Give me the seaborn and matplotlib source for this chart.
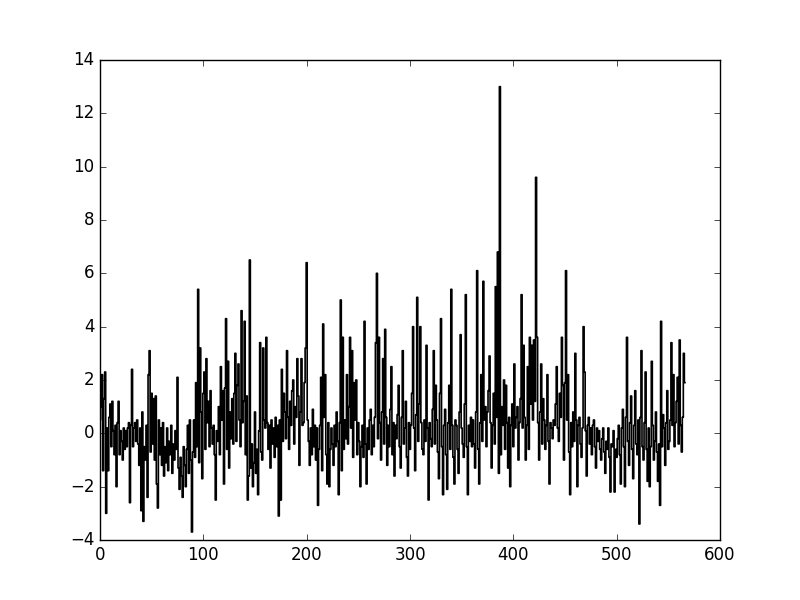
import numpy as np
import pandas as pd
import matplotlib
matplotlib.use("Agg")
import matplotlib.pyplot as plt
import seaborn as sns

# values, one per index (0..566), ten per row
values = [
    0.5, 1.0, 2.2, -1.4, 1.3, 2.3, -3.0, 0.2, -1.4, 0.6,
    1.1, -0.5, 1.2, 0.1, -0.8, 0.3, -2.0, 0.4, 1.2, -0.8,
    0.1, -0.3, -1.0, 0.2, -0.6, 0.1, -0.5, 0.2, 0.4, -2.6,
    0.3, 2.4, -0.5, 0.2, 0.4, -0.3, 0.5, -0.4, -1.2, 0.2,
    -2.9, 0.8, -3.3, -0.5, -1.0, 0.3, -2.4, 2.2, 3.1, -0.7,
    1.5, -0.4, 1.3, -1.0, 1.4, -1.9, -2.8, 0.5, -0.8, 0.2,
    -1.2, 0.4, -1.6, -0.5, -1.1, 0.2, -1.4, -0.3, -0.8, 0.3,
    -1.5, -0.4, -1.0, 0.1, -0.6, 2.1, -1.3, -2.1, -0.9, -1.6,
    -2.4, -0.5, -1.2, -2.0, -0.6, 0.3, -1.5, 0.5, -1.0, -3.7,
    -0.7, 0.5, -0.9, 1.9, -0.5, 5.4, -1.1, 3.2, 0.8, -1.7,
    1.5, 2.3, -0.6, 2.8, 0.4, 1.2, -0.5, 1.6, 0.2, -0.4,
    0.3, -0.8, -2.5, 0.1, -0.3, 1.0, -0.8, 2.5, 0.5, 1.6,
    -1.9, 1.7, 4.3, -0.6, 2.7, -1.3, 0.8, -0.2, 1.3, -0.4,
    1.5, 3.0, -0.3, 1.8, 2.6, 0.5, -0.5, 4.6, 0.4, 1.2,
    4.2, -0.8, 1.4, -2.5, -1.6, 6.5, -1.3, -0.4, -2.0, -1.1,
    0.8, -1.5, -0.6, -2.3, 0.1, 3.4, -0.7, -1.0, 3.2, 0.5,
    0.2, 3.6, 0.4, -0.6, 0.3, -1.3, 0.5, -0.4, 0.2, -0.9,
    0.6, -0.5, 0.3, -3.1, 0.5, -2.5, 2.4, -0.3, 1.5, 0.8,
    -0.2, 3.1, 0.6, -0.6, 1.2, 0.3, 1.6, 2.0, -0.4, 1.0,
    0.6, 2.8, 1.4, -1.2, 0.8, 2.8, 0.3, 0.4, 1.9, 3.2,
    6.4, 0.5, -0.3, -1.2, 0.2, -0.8, 0.9, -0.5, 0.3, -1.0,
    0.2, -2.7, -0.6, 0.3, 2.1, -1.4, 4.1, 0.6, 2.2, -0.8,
    -1.9, 0.4, -2.0, -0.6, 0.2, -0.4, -1.2, 0.3, -0.5, 0.8,
    -0.3, -2.3, 0.4, 5.0, -1.4, 3.6, -0.6, 0.5, -0.2, 2.2,
    -0.4, 1.0, 3.6, 0.2, 3.1, -0.9, 1.9, 0.5, 2.0, -0.8,
    0.4, -0.3, -2.0, -0.5, 0.3, -0.9, 4.2, -0.4, -1.9, 0.2,
    -0.6, 0.5, 0.9, -0.8, 0.3, -0.5, 0.6, 3.4, 6.0, -0.2,
    3.6, 0.4, -1.0, 0.8, 2.8, -0.4, 3.9, 0.6, -1.2, 0.3,
    -0.5, 0.9, 2.5, -0.8, 0.4, -1.6, 0.3, -0.2, 0.7, 1.8,
    -0.5, -1.3, 0.6, 3.1, -0.4, 0.2, 1.2, -0.9, -1.6, 0.4,
    -0.6, 0.3, 1.5, 4.0, 0.2, -1.4, 0.7, 5.1, -0.3, 1.1,
    4.0, 0.4, -0.6, -0.8, 0.5, -0.3, 3.3, 0.2, -2.5, 0.4,
    -0.2, -0.5, 0.9, 3.1, -0.4, 1.8, 0.5, -0.7, -1.7, 1.5,
    4.3, -0.5, -2.3, 0.3, 0.9, -0.8, -2.1, 0.4, 1.8, -0.6,
    5.4, 0.3, -0.9, -1.9, 0.5, 0.3, -0.6, -1.5, 0.8, 3.7,
    0.2, -0.4, -0.9, 1.1, 5.2, -0.5, -2.3, 0.3, -0.3, 0.6,
    -0.5, 0.5, -0.4, -1.3, 0.8, 6.1, -0.6, -1.9, 0.4, 2.2,
    -0.3, 5.7, 0.5, 1.0, -0.5, 0.8, 1.6, 2.9, 0.4, -1.3,
    0.3, 1.5, -0.4, 5.5, 0.6, 6.8, -1.5, 13.0, -0.8, 1.0,
    0.3, 2.0, -0.6, 1.8, 0.4, -1.3, 0.6, -2.0, 0.3, 1.1,
    -0.5, 2.6, 0.2, 0.6, 1.0, -1.0, 0.4, 1.3, 5.2, 0.2,
    3.3, 0.6, -1.0, 0.3, 2.5, -0.6, 3.6, 1.1, 3.3, 0.5,
    3.5, 1.2, 9.6, 3.6, 0.4, -1.0, 0.8, 2.6, -0.4, 1.3,
    0.5, -0.6, 0.3, 2.2, -0.3, -1.9, 0.4, 0.2, -0.2, 0.5,
    0.3, 1.1, 2.5, 0.2, -0.3, 1.5, 0.6, 3.6, 1.8, -1.0,
    1.9, 6.1, 0.5, 2.2, -0.7, -2.3, 0.4, -0.5, 0.8, -0.3,
    3.0, 0.5, -2.0, 0.3, 0.6, -0.4, -0.9, 0.2, 4.0, 2.3,
    0.1, -1.6, 0.3, 0.6, -0.4, 0.2, -0.8, 0.3, 0.5, -0.5,
    -1.3, 0.2, -0.3, 0.1, -0.6, -1.0, -0.2, 0.2, -0.7, -1.5,
    -0.3, -0.6, 0.2, -0.9, -2.2, -0.4, -0.5, 0.1, -2.2, -0.6,
    -0.9, -0.2, 0.3, -0.8, -1.9, 0.2, 0.9, -0.5, -2.0, 0.6,
    3.6, -0.3, -1.2, 0.4, 1.4, -0.6, -1.7, 0.3, 1.6, -0.4,
    -0.8, 0.5, -3.4, 0.6, 3.1, -0.5, -1.0, 0.4, 2.3, -0.6,
    -1.8, 0.2, -2.0, -0.5, 2.7, 0.3, -1.0, -0.3, 0.8, -0.7,
    -1.8, -0.4, -2.7, 4.2, -0.5, 0.7, 0.2, -1.2, 0.4, 1.6,
    -0.6, -0.3, 0.5, 3.4, 0.3, 2.2, -0.5, 0.4, 1.2, 2.1,
    -0.4, 3.5, 0.3, -0.7, 0.6, 3.0, 1.9,
]
index = list(range(len(values)))

x_ticks = [0, 100, 200, 300, 400, 500, 600]
y_ticks = [-4, -2, 0, 2, 4, 6, 8, 10, 12, 14]

df = pd.DataFrame({"index": index, "value": values})

# old matplotlib look: ticks inside on all four sides, white figure
plt.style.use("classic")
plt.rcParams["figure.facecolor"] = "white"
plt.rcParams["savefig.facecolor"] = "white"
plt.rcParams["font.family"] = ["DejaVu Sans"]

fig, ax = plt.subplots(figsize=(8, 6), dpi=100)
fig.subplots_adjust(left=0.125, right=0.9, bottom=0.1, top=0.9)

# the reference draws the series as steps: vertical strokes, flat tops
sns.lineplot(data=df, x="index", y="value", ax=ax, color="black",
             linewidth=1.2, estimator=None, legend=False,
             drawstyle="steps-mid")

ax.set_xlim(0, 600)
ax.set_ylim(-4, 14)
ax.set_xticks(x_ticks)
ax.set_yticks(y_ticks)
ax.set_xlabel("")
ax.set_ylabel("")
ax.tick_params(labelsize=12)

fig.savefig("out.png", dpi=100)
